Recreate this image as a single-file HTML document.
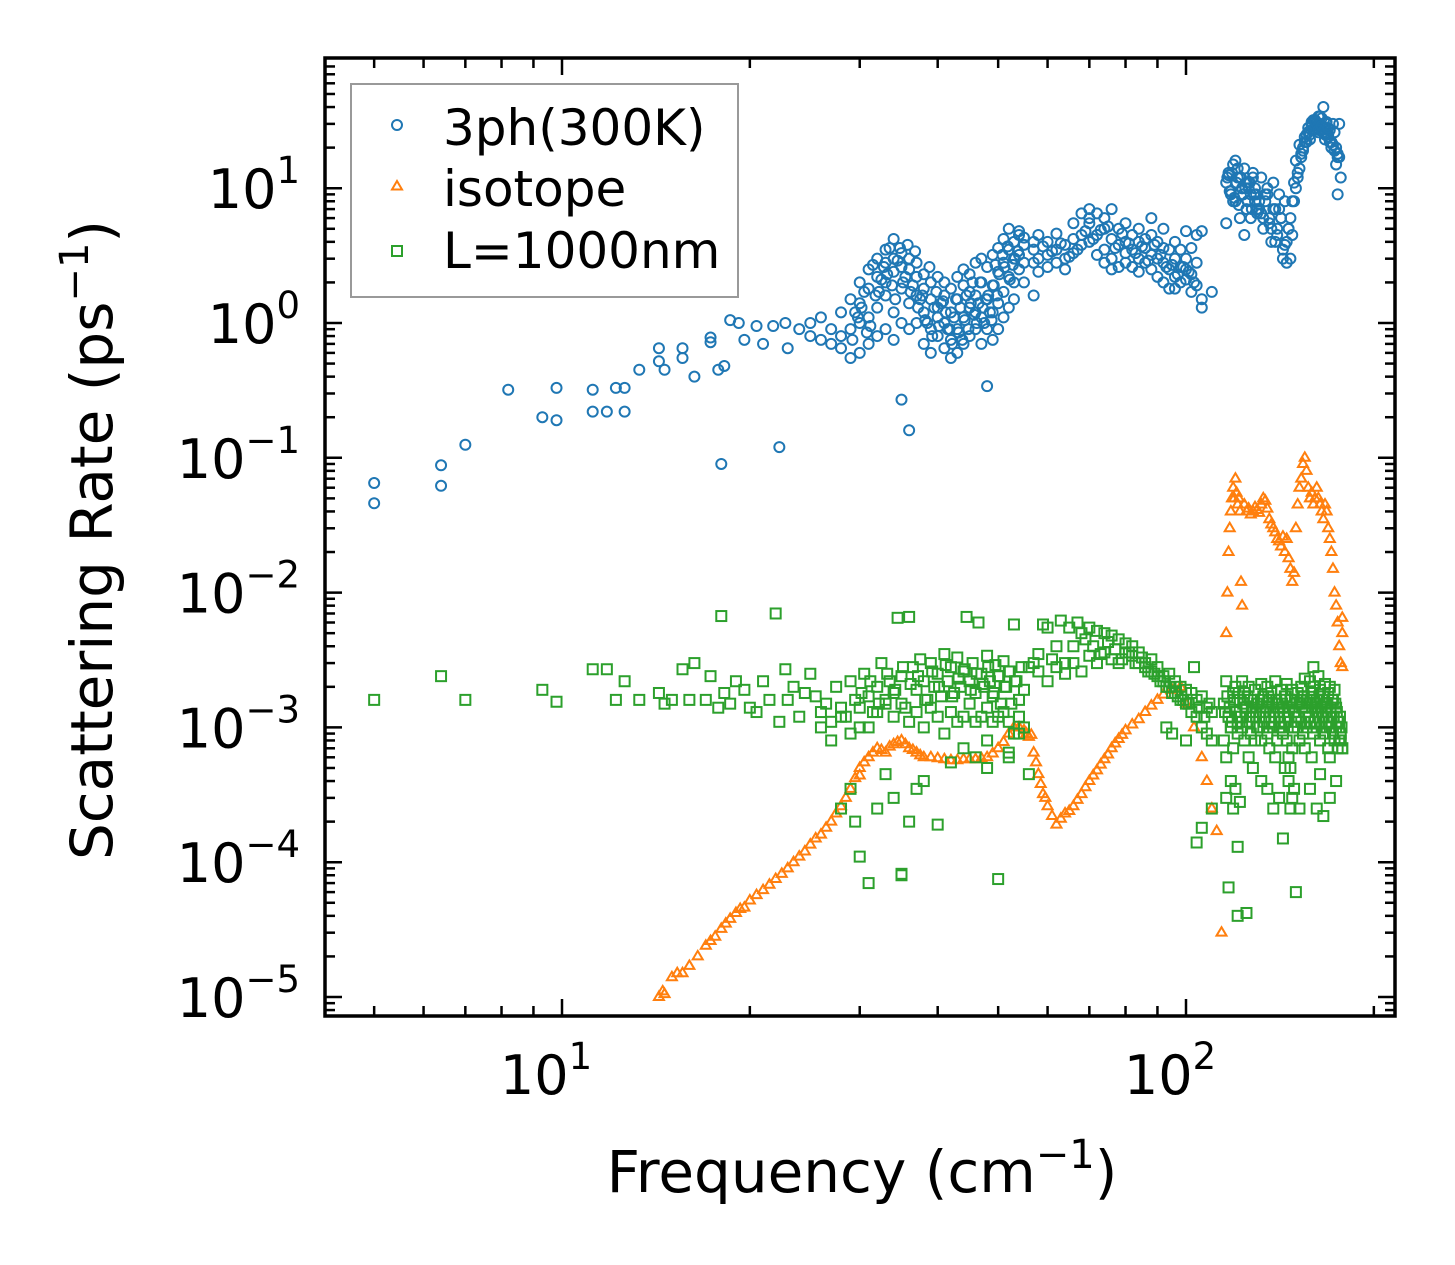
<!DOCTYPE html>
<html><head><meta charset="utf-8"><style>
body{margin:0;background:#fff;}
svg{display:block;font-family:"DejaVu Sans","Liberation Sans",sans-serif;}
</style></head><body>
<svg id="chart" width="1455" height="1265" viewBox="0 0 1455 1265" xmlns="http://www.w3.org/2000/svg">
<rect x="0" y="0" width="1455" height="1265" fill="#fff"/>
<g id="marks"></g>
<g id="ticks"></g>
<rect x="325" y="58" width="1070" height="958" fill="none" stroke="#000" stroke-width="3.5"/>
<g id="labels" font-size="54" fill="#000"></g>
<text x="862" y="1192" font-size="58" text-anchor="middle">Frequency (cm<tspan font-size="40" dy="-24">−1</tspan><tspan dy="24">)</tspan></text>
<text transform="translate(112,540) rotate(-90)" font-size="58" text-anchor="middle">Scattering Rate (ps<tspan font-size="40" dy="-24">−1</tspan><tspan dy="24">)</tspan></text>
<g>
<rect x="351" y="84" width="387" height="213" fill="#fff" fill-opacity="0.8" stroke="#999" stroke-width="2"/>
<circle cx="397" cy="125" r="5" fill="none" stroke="#1f77b4" stroke-width="2"/>
<text x="443" y="145" font-size="50">3ph(300K)</text>
<polygon points="397,181 402,189.5 392,189.5" fill="none" stroke="#ff7f0e" stroke-width="2"/>
<text x="443" y="206" font-size="50">isotope</text>
<rect x="392" y="246" width="10" height="10" fill="none" stroke="#2ca02c" stroke-width="2"/>
<text x="443" y="268" font-size="50">L=1000nm</text>
</g>
</svg>
<script>
const xTickValues=[10,100];
const xTickLabels=["10","10"];
const xTickExps=["1","2"];
const yTickValues=[10,1,0.1,0.01,0.001,0.0001,0.00001];
const yTickLabels=["10","10","10","10","10","10","10"];
const yTickExps=["1","0","−1","−2","−3","−4","−5"];

const freq3ph=[5,5,6.4,6.4,7,8.2,9.3,9.8,9.8,11.2,11.2,11.8,12.2,12.6,12.6,13.3,14.3,14.3,14.6,15.6,15.6,16.3,17.3,17.3,17.8,18.2,18,18.6,19.2,19.6,20.5,21,21.8,22.3,22.8,23,24,
25,25,26,26,27,27,28,28,28,29,29,29,30,30,30,30,31,31,31,31,32,32,32,32,33,33,33,33,33,34,34,34,34,34,35,35,35,35,35,36,36,36,36,36,37,37,37,37,38,38,38,38,39,39,39,39,40,40,40,40,41,41,41,41,42,42,42,42,43,43,43,43,44,44,44,44,45,45,45,45,46,46,46,46,47,47,47,47,48,48,48,48,49,49,49,49,50,50,50,50,51,51,51,51,52,52,52,52,53,53,53,53,54,54,54,54,55,55,55,55,
29.5,30.5,31.5,32.5,33.5,34.5,35.5,36.5,37.5,38.5,39.5,40.5,41.5,42.5,43.5,44.5,45.5,46.5,47.5,48.5,49.5,
29.2,30.2,31.2,32.2,33.2,34.2,35.2,36.2,37.2,38.2,39.2,40.2,41.2,42.2,43.2,44.2,45.2,46.2,47.2,48.2,49.2,50.2,51.2,52.2,53.2,
29.8,30.8,31.8,32.8,33.8,34.8,35.8,36.8,37.8,38.8,39.8,40.8,41.8,42.8,43.8,44.8,45.8,46.8,47.8,48.8,49.8,50.8,51.8,52.8,53.8,
57,57,57,57,58,58,58,60,60,60,62,62,62,64,64,64,66,66,66,68,68,68,70,70,70,70,72,72,72,74,74,74,74,76,76,76,76,78,78,78,80,80,80,80,82,82,82,84,84,84,84,86,86,86,88,88,88,88,90,90,90,92,92,92,92,94,94,94,96,96,96,96,98,98,98,100,100,100,100,102,102,102,104,104,104,106,106,106,110,
59,61,63,65,67,69,71,73,75,77,79,81,83,85,87,89,91,93,95,97,99,101,103,
116,117,118,119,120,121,122,123,124,125,126,127,128,129,130,116,118,120,122,124,126,128,130,117,119,121,123,125,127,129,
116.5,117.5,118.5,119.5,120.5,121.5,122.5,123.5,124.5,125.5,126.5,127.5,128.5,129.5,
131,132,133,134,135,136,137,138,139,140,141,142,143,144,145,146,147,148,149,131,133,135,137,139,141,143,145,147,149,
132,134,136,138,140,142,144,146,148,
150,151,152,153,154,155,156,157,158,159,160,161,162,163,164,165,166,167,168,169,170,171,172,173,174,175,176,177,150,152,154,156,158,160,162,164,166,168,170,172,174,176,157,159,161,163,165,167,169,171,173,175,
151,153,155,157,159,161,163,165,167,169,171,173,175,177];
const rate3ph=[0.065,0.046,0.088,0.062,0.125,0.32,0.2,0.33,0.19,0.32,0.22,0.22,0.33,0.33,0.22,0.45,0.52,0.65,0.45,0.65,0.55,0.4,0.78,0.72,0.45,0.48,0.09,1.05,1.0,0.75,0.95,0.7,0.95,0.12,1.0,0.65,0.9,
0.8,1.0,0.75,1.1,0.9,0.7,0.65,1.2,0.8,1.5,0.55,0.9,2.0,1.0,0.6,1.4,1.8,0.7,2.5,1.1,2.2,1.3,0.8,3.0,2.8,1.6,0.9,3.5,2.0,3.0,1.2,2.4,4.2,0.75,2.6,1.8,3.3,1.0,0.27,2.5,3.0,1.4,0.9,0.16,2.2,1.6,1.0,2.8,1.8,0.7,1.2,2.3,1.5,0.9,2.0,0.6,1.3,2.2,0.8,1.1,1.0,1.6,0.65,2.0,1.2,0.75,1.8,0.55,1.5,0.9,2.2,0.6,1.9,1.1,0.7,2.5,2.3,1.3,0.8,1.7,1.6,2.8,0.9,1.2,2.0,1.1,3.0,0.7,2.6,1.5,0.9,0.34,3.2,1.9,1.2,0.75,3.6,2.4,1.4,0.9,4.2,2.8,1.7,1.1,3.5,2.2,5.0,1.3,4.0,3.0,2.0,1.5,4.5,3.2,2.5,4.8,3.8,2.8,4.3,2.0,
1.2,1.7,2.7,2.1,3.6,2.9,2.2,1.9,1.5,1.0,1.3,1.4,0.9,1.1,1.3,1.6,2.0,1.4,1.0,1.2,2.7,
0.75,1.3,0.95,1.7,2.3,1.5,2.0,1.7,1.3,1.05,0.8,0.95,1.2,0.7,0.85,1.05,1.4,1.0,1.3,1.6,1.9,2.3,2.6,2.1,3.0,
1.1,0.85,1.6,2.6,1.9,3.6,3.8,3.4,1.6,2.6,1.7,1.45,0.9,1.5,0.75,0.9,1.15,2.0,1.5,1.05,1.6,3.2,3.7,2.7,3.4,
3.5,4.0,1.6,2.8,3.0,4.5,2.4,3.2,2.6,4.0,2.8,3.5,4.6,3.0,2.5,3.8,3.3,4.2,5.5,4.5,6.5,3.8,5.5,7.0,4.0,6.0,6.5,4.5,3.2,5.0,3.5,2.8,6.0,4.2,3.0,2.5,7.0,3.8,2.6,5.0,4.0,2.8,3.3,5.5,3.5,4.5,2.6,3.0,4.0,5.0,2.4,3.6,2.8,4.2,3.2,2.5,4.5,6.0,3.0,4.0,2.2,2.8,3.6,2.0,5.0,3.5,2.5,1.8,3.0,2.2,4.0,1.8,2.6,3.5,2.0,2.5,3.0,2.1,4.8,2.3,3.6,1.7,1.9,2.8,4.5,1.5,4.8,1.3,1.7,
3.7,3.4,3.9,3.1,3.5,4.8,4.2,4.9,5.2,3.6,4.6,3.9,3.3,3.7,2.9,3.8,3.2,2.6,2.7,2.3,2.6,2.4,2.0,
11,13,9,15,8,12,6,10,14,7,11,9,13,8,7,5.5,9.5,16,12,4.5,10,12,6.5,12.5,8,14,10,11,6,
10,12,9.5,13,8.5,11,7.5,12,9,10,8,11,7,9,
9,7,12,5,8,10,6,4,11,7,5,9,6,3.5,8,4,5,3,4.5,11,8,6,9,5,4,7,3,2.8,6,
8,6.5,9,5.5,7,4.5,6,3.8,5,
8,10,12,14,17,20,24,22,28,25,30,27,32,29,26,30,33,40,28,31,24,27,22,30,26,20,18,17,12,16,21,19,25,23,32,28,34,26,30,22,21,15,
30,26,31,29,34,27,23,25,20,19,
9,13,18,22,26,29,31,27,29,25,28,22,19,17];

const freqIso=[14.3,14.5,14.6,15,15.3,15.6,16,16.5,17,17.3,17.6,18,18.3,18.6,19,19.3,19.6,20,20.5,21,21.5,22,22.5,23,23.5,24,24.5,25,25.5,26,26.5,27,27.5,28,28.5,29,29.5,30,30,30.5,31,31.5,32,32.5,33,33.5,34,34.5,35,35.5,36,36.5,37,37.5,38,39,40,41,42,43,44,45,46,47,48,49,50,51,52,53,54,55,55.5,56,56.5,57,57.5,58,58.5,59,59.5,60,61,62,63,64,65,66,67,68,69,70,71,72,73,74,75,76,77,78,79,80,82,84,86,88,90,92,95,98,100,103,106,108,110,112,114,
116,116.5,117,117.5,118,118.5,119,119.5,120,120.5,121,121.5,122,122.5,123,124,125,126,127,128,129,130,131,132,133,134,135,136,137,138,139,140,141,142,143,144,145,146,147,148,149,150,151,152,153,154,155,156,157,158,159,160,161,162,163,164,165,166,167,168,169,170,171,172,173,174,175,176,177,178,178,178];
const rateIso=[1.0e-5,1.1e-5,1.05e-5,1.4e-5,1.5e-5,1.5e-5,1.7e-5,2.0e-5,2.4e-5,2.6e-5,2.8e-5,3.2e-5,3.5e-5,3.8e-5,4.2e-5,4.5e-5,4.6e-5,5.2e-5,5.7e-5,6.2e-5,6.8e-5,7.5e-5,8.2e-5,9e-5,1.0e-4,1.1e-4,1.2e-4,1.35e-4,1.5e-4,1.6e-4,1.8e-4,2.0e-4,2.3e-4,2.6e-4,3.0e-4,3.5e-4,4.2e-4,5.0e-4,4.4e-4,5.5e-4,6.0e-4,6.5e-4,7.0e-4,6.8e-4,6.5e-4,7.2e-4,7.5e-4,7.8e-4,8.0e-4,7.5e-4,7.0e-4,6.8e-4,6.5e-4,6.2e-4,6.0e-4,6.0e-4,5.9e-4,5.8e-4,5.7e-4,5.7e-4,5.8e-4,5.8e-4,5.8e-4,5.9e-4,6.0e-4,6.4e-4,7.0e-4,7.8e-4,9.0e-4,1.0e-3,1.0e-3,9.5e-4,9.0e-4,8.5e-4,8.8e-4,6.5e-4,5.5e-4,4.5e-4,3.8e-4,3.2e-4,3.0e-4,2.6e-4,2.2e-4,1.9e-4,2.1e-4,2.3e-4,2.4e-4,2.6e-4,2.9e-4,3.2e-4,3.6e-4,4.0e-4,4.4e-4,4.8e-4,5.3e-4,5.8e-4,6.3e-4,7.0e-4,7.6e-4,8.2e-4,8.8e-4,9.5e-4,1.05e-3,1.15e-3,1.3e-3,1.45e-3,1.6e-3,1.75e-3,1.9e-3,2.0e-3,1.5e-3,1.0e-3,6e-4,4e-4,2.5e-4,1.7e-4,3e-5,
0.005,0.01,0.02,0.03,0.04,0.05,0.06,0.05,0.07,0.055,0.045,0.05,0.04,0.012,0.008,0.045,0.04,0.042,0.038,0.04,0.043,0.041,0.039,0.045,0.05,0.048,0.042,0.035,0.032,0.03,0.028,0.025,0.024,0.022,0.026,0.02,0.025,0.018,0.015,0.012,0.014,0.03,0.045,0.06,0.07,0.09,0.1,0.08,0.06,0.05,0.055,0.045,0.05,0.06,0.05,0.045,0.04,0.035,0.045,0.04,0.03,0.025,0.02,0.015,0.01,0.008,0.006,0.004,0.003,0.0065,0.005,0.0028];

const freqL=[5,6.4,7,9.3,9.8,11.2,11.8,12.2,12.6,13.3,14.3,14.6,15,15.6,16,16.3,17,17.3,17.8,18,18.2,18.6,19,19.6,20,20.5,21,21.5,22,22.3,22.8,23,23.5,24,24.5,25,25.5,26,26.5,27,27.5,28,28.5,29,29.5,30,30.5,31,31.5,32,32.5,33,33.5,34,34.5,35,35.5,36,36.5,37,37.5,38,38.5,39,39.5,40,40.5,41,41.5,42,42.5,43,43.5,44,44.5,45,45.5,46,46.5,47,47.5,48,48.5,49,49.5,50,50.5,51,51.5,52,52.5,53,53.5,54,54.5,55,
26,27,28,29,30,31,32,33,34,35,36,37,38,39,40,41,42,43,44,45,46,47,48,49,50,51,52,53,54,55,
28,29,29.5,30,31,32,33,34,35,35,36,37,38,40,42,44,46,48,50,52,54,
30.2,31.2,32.2,33.2,34.2,35.2,36.2,37.2,38.2,39.2,40.2,41.2,42.2,43.2,44.2,45.2,46.2,47.2,48.2,49.2,50.2,51.2,52.2,53.2,
56,57,58,59,60,61,62,63,64,65,66,67,68,69,70,71,72,73,74,75,76,77,78,79,80,81,82,83,84,85,86,87,88,89,90,91,92,93,94,95,96,97,98,99,100,101,102,103,104,105,106,107,108,109,110,
58,60,62,64,66,68,70,72,74,76,78,80,82,84,86,88,90,92,94,96,98,100,102,104,106,108,110,
48,52,56,93,95,100,104,106,110,
115,116,117,118,119,120,121,122,123,124,125,126,127,128,129,130,131,132,133,134,135,136,137,138,139,140,141,142,143,144,145,146,147,148,149,150,151,152,153,154,155,156,157,158,159,160,161,162,163,164,165,166,167,168,169,170,171,172,173,174,175,176,177,178,
115,116,117,118,119,120,121,122,123,124,125,126,127,128,129,130,131,132,133,134,135,136,137,138,139,140,141,142,143,144,145,146,147,148,149,150,151,152,153,154,155,156,157,158,159,160,161,162,163,164,165,166,167,168,169,170,171,172,173,174,175,176,177,178,
115.5,116.5,117.5,118.5,119.5,120.5,121.5,122.5,123.5,124.5,125.5,126.5,127.5,128.5,129.5,130.5,131.5,132.5,133.5,134.5,135.5,136.5,137.5,138.5,139.5,140.5,141.5,142.5,143.5,144.5,145.5,146.5,147.5,148.5,149.5,150.5,151.5,152.5,153.5,154.5,155.5,156.5,157.5,158.5,159.5,160.5,161.5,162.5,163.5,164.5,165.5,166.5,167.5,168.5,169.5,170.5,171.5,172.5,173.5,174.5,175.5,176.5,177.5,
116,118,119,120,121,122,125,128,132,135,138,141,144,146,148,150,152,158,162,166,170,174,117,121,143,147,149,160,164,170];
const rateL=[1.6e-3,2.4e-3,1.6e-3,1.9e-3,1.55e-3,2.7e-3,2.7e-3,1.6e-3,2.2e-3,1.6e-3,1.8e-3,1.5e-3,1.6e-3,2.7e-3,1.6e-3,3.0e-3,1.6e-3,2.4e-3,1.4e-3,6.7e-3,1.8e-3,1.5e-3,2.2e-3,1.9e-3,1.4e-3,1.3e-3,2.2e-3,1.6e-3,7.0e-3,1.1e-3,2.7e-3,1.6e-3,2.0e-3,1.2e-3,1.8e-3,2.5e-3,1.7e-3,1.3e-3,1.5e-3,1.1e-3,2.0e-3,1.4e-3,1.2e-3,2.2e-3,1.6e-3,1.0e-3,2.5e-3,1.7e-3,1.3e-3,2.0e-3,3.0e-3,1.5e-3,2.2e-3,1.8e-3,6.5e-3,2.4e-3,1.4e-3,6.6e-3,2.8e-3,1.9e-3,3.2e-3,2.2e-3,1.6e-3,3.0e-3,2.0e-3,2.5e-3,1.7e-3,3.5e-3,2.2e-3,2.8e-3,1.8e-3,3.3e-3,2.0e-3,2.6e-3,6.6e-3,2.2e-3,3.0e-3,1.8e-3,6.0e-3,2.5e-3,2.0e-3,3.4e-3,2.2e-3,1.7e-3,2.9e-3,2.4e-3,1.5e-3,3.1e-3,2.0e-3,2.6e-3,1.5e-3,5.8e-3,2.2e-3,1.6e-3,2.8e-3,1.9e-3,
1.0e-3,8e-4,1.2e-3,9e-4,1.4e-3,1.0e-3,1.3e-3,1.6e-3,1.2e-3,1.5e-3,1.1e-3,1.3e-3,1.0e-3,1.4e-3,1.2e-3,9e-4,1.3e-3,1.1e-3,1.2e-3,1.5e-3,1.1e-3,1.2e-3,1.4e-3,1.1e-3,1.2e-3,1.3e-3,1.1e-3,9e-4,1.2e-3,1.0e-3,
2.5e-4,3.5e-4,2.0e-4,1.1e-4,7e-5,2.5e-4,4.5e-4,3.0e-4,8e-5,8.2e-5,2.0e-4,3.5e-4,4.0e-4,1.9e-4,5.5e-4,7.0e-4,6.0e-4,8.0e-4,7.5e-5,6.0e-4,9.0e-4,
1.8e-3,2.2e-3,1.5e-3,2.5e-3,1.9e-3,2.8e-3,2.1e-3,2.4e-3,1.6e-3,2.6e-3,2.0e-3,2.9e-3,1.7e-3,2.3e-3,2.7e-3,1.9e-3,2.5e-3,2.1e-3,2.8e-3,1.8e-3,2.4e-3,2.0e-3,2.6e-3,2.2e-3,
2.8e-3,3.0e-3,3.5e-3,5.8e-3,5.5e-3,3.2e-3,4.0e-3,6.2e-3,3.0e-3,5.5e-3,4.0e-3,6.0e-3,5.0e-3,4.5e-3,5.5e-3,4.0e-3,5.2e-3,3.5e-3,5.0e-3,4.3e-3,4.8e-3,3.8e-3,4.5e-3,3.2e-3,4.2e-3,3.6e-3,4.0e-3,3.0e-3,3.6e-3,3.3e-3,3.0e-3,2.6e-3,3.2e-3,2.5e-3,2.8e-3,2.2e-3,2.4e-3,2.0e-3,2.5e-3,1.8e-3,2.2e-3,1.7e-3,2.0e-3,1.6e-3,1.9e-3,1.5e-3,1.8e-3,2.8e-3,1.6e-3,1.4e-3,1.7e-3,1.2e-3,1.4e-3,1.5e-3,1.3e-3,
2.6e-3,2.2e-3,2.8e-3,2.5e-3,3.0e-3,2.6e-3,3.4e-3,3.0e-3,3.6e-3,3.2e-3,3.0e-3,3.6e-3,3.4e-3,3.0e-3,2.8e-3,2.6e-3,2.4e-3,2.2e-3,2.0e-3,1.8e-3,1.6e-3,1.5e-3,1.3e-3,1.2e-3,1.0e-3,9e-4,8e-4,
5.0e-4,6.5e-4,4.5e-4,1.0e-3,9.0e-4,8e-4,1.4e-4,1.8e-4,2.5e-4,
1.5e-3,2.2e-3,1.2e-3,1.0e-3,1.8e-3,2.0e-3,1.1e-3,1.6e-3,2.2e-3,1.8e-3,1.4e-3,2.0e-3,1.6e-3,1.3e-3,1.9e-3,1.5e-3,1.0e-3,2.1e-3,1.7e-3,1.2e-3,2.0e-3,1.6e-3,1.8e-3,1.3e-3,2.2e-3,1.5e-3,1.0e-3,1.9e-3,1.4e-3,1.7e-3,2.1e-3,1.2e-3,1.6e-3,1.9e-3,1.3e-3,1.1e-3,1.8e-3,1.5e-3,2.0e-3,1.7e-3,2.3e-3,1.6e-3,1.2e-3,2.2e-3,1.8e-3,2.0e-3,1.4e-3,1.6e-3,2.4e-3,1.9e-3,1.3e-3,1.7e-3,2.1e-3,1.5e-3,1.8e-3,2.0e-3,1.2e-3,1.6e-3,1.9e-3,1.4e-3,1.1e-3,1.0e-3,8e-4,7e-4,
8e-4,6e-4,1.2e-3,1.0e-3,7e-4,1.3e-3,9e-4,1.2e-3,1.0e-3,8e-4,1.1e-3,6e-4,9e-4,1.2e-3,8e-4,1.0e-3,1.2e-3,8e-4,1.0e-3,1.3e-3,9e-4,7e-4,1.1e-3,1.0e-3,6e-4,8e-4,1.2e-3,1.0e-3,9e-4,1.1e-3,8e-4,6e-4,5e-4,7e-4,1.0e-3,1.2e-3,1.0e-3,8e-4,1.1e-3,9e-4,7e-4,1.0e-3,1.2e-3,1.1e-3,6e-4,9e-4,1.1e-3,1.0e-3,1.3e-3,8e-4,1.0e-3,1.2e-3,9e-4,1.1e-3,7e-4,1.0e-3,1.2e-3,9e-4,8e-4,1.0e-3,7e-4,8e-4,9e-4,7e-4,
1.3e-3,1.7e-3,1.4e-3,1.1e-3,1.6e-3,1.3e-3,1.8e-3,1.2e-3,1.5e-3,1.4e-3,1.7e-3,1.1e-3,1.4e-3,1.6e-3,1.2e-3,1.5e-3,1.3e-3,1.6e-3,1.1e-3,1.4e-3,1.7e-3,1.3e-3,1.5e-3,1.2e-3,1.6e-3,1.4e-3,1.1e-3,1.5e-3,1.3e-3,1.7e-3,1.2e-3,1.4e-3,1.6e-3,1.0e-3,1.3e-3,1.5e-3,1.2e-3,1.6e-3,1.4e-3,1.7e-3,1.3e-3,1.5e-3,1.2e-3,1.6e-3,1.4e-3,1.1e-3,1.5e-3,1.3e-3,1.7e-3,1.4e-3,1.2e-3,1.6e-3,1.3e-3,1.5e-3,1.1e-3,1.4e-3,1.6e-3,1.2e-3,1.5e-3,1.3e-3,1.1e-3,1.2e-3,1.0e-3,
3e-4,4e-4,2.5e-4,3.5e-4,1.3e-4,2.8e-4,4.2e-5,5e-4,4e-4,3.5e-4,2.5e-4,3e-4,5e-4,4e-4,3e-4,6e-5,2.5e-4,3.5e-4,2.5e-4,2.2e-4,3e-4,4e-4,6.5e-5,4e-5,1.5e-4,2.5e-4,3.5e-4,2.8e-3,4.5e-4,6e-4];

const NS='http://www.w3.org/2000/svg';
const X0=562, XD=624, Y0=323, YD=134.8;
function xScale(v){return X0+(Math.log10(v)-1)*XD;}
function yScale(v){return Y0-Math.log10(v)*YD;}
function mk(tag,attrs,parent){const e=document.createElementNS(NS,tag);for(const k in attrs)e.setAttribute(k,attrs[k]);parent.appendChild(e);return e;}
const marks=document.getElementById('marks');
const gB=mk('g',{fill:'none',stroke:'#1f77b4','stroke-width':2},marks);


const gO=mk('g',{fill:'none',stroke:'#ff7f0e','stroke-width':2},marks);


const gG=mk('g',{fill:'none',stroke:'#2ca02c','stroke-width':2},marks);


for(let i=0;i<freqL.length&&i<rateL.length;i++){
  const x=xScale(freqL[i]),y=yScale(rateL[i]);
  const r=mk('rect',{x:x-5,y:y-5,width:10,height:10},gG);
  
  
}
for(let i=0;i<freqIso.length&&i<rateIso.length;i++){
  const x=xScale(freqIso[i]),y=yScale(rateIso[i]);
  const p=mk('polygon',{points:`${x},${y-5.5} ${x+5},${y+3} ${x-5},${y+3}`},gO);
  
  
}
for(let i=0;i<freq3ph.length&&i<rate3ph.length;i++){
  const c=mk('circle',{cx:xScale(freq3ph[i]),cy:yScale(rate3ph[i]),r:5},gB);
  
  
}
const tk=document.getElementById('ticks');
const L=325,R=1395,T=58,B=1016;
function line(x1,y1,x2,y2){const l=mk('line',{x1,y1,x2,y2,stroke:'#000','stroke-width':2.5},tk);}
for(let d=0;d<=2;d++){for(let m=1;m<=9;m++){const v=m*Math.pow(10,d);const x=xScale(v);if(x<L+2||x>R-2)continue;const len=m===1?17:10;line(x,B,x,B-len);line(x,T,x,T+len);}}
for(let d=-6;d<=1;d++){for(let m=1;m<=9;m++){const v=m*Math.pow(10,d);const y=yScale(v);if(y<T+2||y>B-2)continue;const len=m===1?17:10;line(L,y,L+len,y);line(R,y,R-len,y);}}
const lb=document.getElementById('labels');
xTickValues.forEach((v,i)=>{const t=mk('text',{x:xScale(v)-16,y:1094,'text-anchor':'middle'},lb);t.textContent=xTickLabels[i];const s=mk('tspan',{'font-size':37,dy:-25},t);s.textContent=xTickExps[i];});
yTickValues.forEach((v,i)=>{const t=mk('text',{x:300,y:yScale(v)+20,'text-anchor':'end'},lb);t.textContent=yTickLabels[i];const s=mk('tspan',{'font-size':37,dy:-25},t);s.textContent=yTickExps[i];});
</script>
</body></html>
